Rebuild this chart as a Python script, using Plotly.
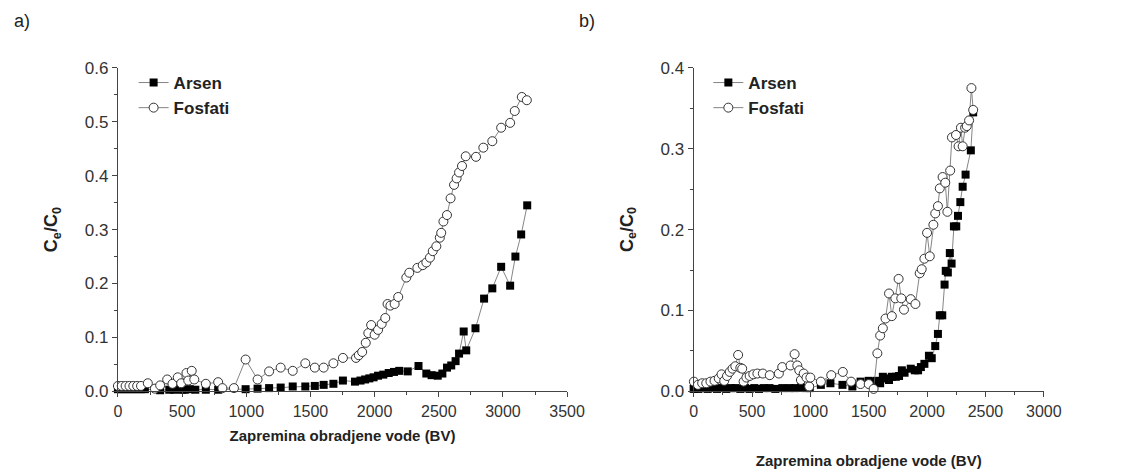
import plotly.graph_objects as go

# panel a) data
a_arsen_x = [0, 30, 60, 90, 120, 150, 180, 210, 329, 400, 438, 460, 500, 521, 560, 603, 685, 781,
             995, 1088, 1178, 1268, 1362, 1460, 1534, 1603, 1679, 1753, 1847, 1890, 1926, 1959, 1992,
             2027, 2068, 2110, 2151, 2192, 2258, 2342, 2403, 2444, 2492, 2528, 2564, 2597, 2631,
             2658, 2694, 2714, 2786, 2853, 2917, 2986, 3056, 3097, 3142, 3189]
a_arsen_y = [0.004, 0.004, 0.004, 0.004, 0.004, 0.004, 0.004, 0.004, 0.002, 0.003, 0.003, 0.004,
             0.003, 0.003, 0.004, 0.003, 0.003, 0.003, 0.004, 0.005, 0.006, 0.007, 0.009, 0.009,
             0.010, 0.012, 0.014, 0.020, 0.018, 0.020, 0.022, 0.024, 0.026, 0.029, 0.031, 0.034,
             0.036, 0.038, 0.037, 0.047, 0.033, 0.030, 0.029, 0.033, 0.044, 0.048, 0.056, 0.070,
             0.111, 0.076, 0.117, 0.172, 0.191, 0.231, 0.196, 0.250, 0.291, 0.345]

a_fosf_x = [0, 30, 60, 90, 120, 150, 180, 233, 288, 329, 384, 425, 466, 493, 534, 548, 575, 595,
            685, 781, 814, 904, 995, 1088, 1178, 1268, 1362, 1460, 1534, 1603, 1679, 1753, 1855,
            1877, 1903, 1931, 1951, 1973, 2000, 2027, 2055, 2083, 2101, 2123, 2156, 2184, 2247,
            2270, 2333, 2375, 2403, 2431, 2453, 2481, 2508, 2519, 2536, 2564, 2592, 2619, 2639,
            2658, 2681, 2710, 2790, 2847, 2917, 2986, 3056, 3092, 3147, 3186]
a_fosf_y = [0.010, 0.010, 0.010, 0.010, 0.010, 0.010, 0.010, 0.015, 0.005, 0.011, 0.022, 0.014,
            0.026, 0.015, 0.034, 0.020, 0.038, 0.022, 0.014, 0.017, 0.006, 0.006, 0.059, 0.022,
            0.037, 0.044, 0.038, 0.052, 0.044, 0.044, 0.052, 0.062, 0.062, 0.067, 0.073, 0.090,
            0.108, 0.123, 0.105, 0.114, 0.125, 0.136, 0.162, 0.159, 0.162, 0.175, 0.211, 0.220,
            0.229, 0.234, 0.239, 0.248, 0.260, 0.269, 0.285, 0.294, 0.315, 0.327, 0.358, 0.383,
            0.395, 0.406, 0.418, 0.436, 0.435, 0.452, 0.464, 0.489, 0.498, 0.520, 0.546, 0.540]

# panel b) data
b_arsen_x = [0, 40, 80, 120, 160, 200, 240, 280, 320, 360, 400, 440, 480, 520, 560, 600, 650,
             700, 760, 820, 870, 920, 960, 995, 1090, 1172, 1275, 1360, 1430, 1500, 1535, 1570,
             1598, 1621, 1651, 1674, 1698, 1733, 1760, 1784, 1807, 1860, 1895, 1923, 1947, 1977,
             2016, 2040, 2070, 2093, 2109, 2130, 2150, 2160, 2178, 2195, 2210, 2230, 2250, 2265,
             2285, 2305, 2330, 2375, 2395]
b_arsen_y = [0.003, 0.003, 0.004, 0.003, 0.004, 0.003, 0.004, 0.003, 0.004, 0.004, 0.003, 0.004,
             0.003, 0.004, 0.003, 0.004, 0.004, 0.003, 0.004, 0.004, 0.004, 0.005, 0.004, 0.004,
             0.008, 0.010, 0.008, 0.006, 0.012, 0.013, 0.012, 0.013, 0.010, 0.018, 0.016, 0.014,
             0.018, 0.018, 0.019, 0.026, 0.023, 0.028, 0.026, 0.026, 0.030, 0.034, 0.044, 0.041,
             0.056, 0.071, 0.094, 0.094, 0.132, 0.149, 0.147, 0.171, 0.158, 0.204, 0.204, 0.217,
             0.234, 0.253, 0.268, 0.298, 0.345]

b_fosf_x = [2, 37, 73, 108, 144, 179, 215, 239, 262, 286, 309, 333, 357, 381, 400, 416, 428, 452,
            480, 511, 546, 593, 652, 730, 759, 830, 865, 888, 905, 919, 943, 967, 990, 1000, 1090,
            1179, 1278, 1349, 1430, 1500, 1542, 1574, 1598, 1621, 1644, 1674, 1698, 1728, 1756,
            1779, 1802, 1860, 1900, 1937, 1954, 1977, 2000, 2023, 2054, 2070, 2093, 2109, 2133,
            2156, 2174, 2198, 2213, 2248, 2270, 2290, 2305, 2326, 2340, 2360, 2380, 2395]
b_fosf_y = [0.012, 0.008, 0.010, 0.010, 0.012, 0.013, 0.016, 0.021, 0.013, 0.019, 0.024, 0.028,
            0.031, 0.045, 0.029, 0.028, 0.012, 0.017, 0.019, 0.021, 0.022, 0.022, 0.020, 0.022,
            0.030, 0.032, 0.046, 0.032, 0.026, 0.014, 0.022, 0.017, 0.006, 0.017, 0.012, 0.020,
            0.024, 0.012, 0.009, 0.009, 0.003, 0.047, 0.069, 0.078, 0.090, 0.121, 0.093, 0.115,
            0.139, 0.115, 0.101, 0.114, 0.108, 0.146, 0.151, 0.164, 0.196, 0.167, 0.206, 0.220,
            0.229, 0.251, 0.265, 0.258, 0.222, 0.273, 0.314, 0.317, 0.303, 0.326, 0.303, 0.326,
            0.328, 0.335, 0.375, 0.348]

FONT = "Liberation Sans, Arial, sans-serif"
LINE = "#666666"
W, H = 1145, 473

sq = dict(symbol="square", size=8, color="black", line=dict(width=0))
circ = dict(symbol="circle", size=9, color="white", line=dict(color="#333333", width=1))

fig = go.Figure()
fig.add_trace(go.Scatter(x=a_arsen_x, y=a_arsen_y, name="<b>Arsen</b>", mode="lines+markers",
                         marker=sq, line=dict(color=LINE, width=0.8), cliponaxis=False,
                         xaxis="x", yaxis="y", legend="legend"))
fig.add_trace(go.Scatter(x=a_fosf_x, y=a_fosf_y, name="<b>Fosfati</b>", mode="lines+markers",
                         marker=circ, line=dict(color=LINE, width=0.8), cliponaxis=False,
                         xaxis="x", yaxis="y", legend="legend"))
fig.add_trace(go.Scatter(x=b_arsen_x, y=b_arsen_y, name="<b>Arsen</b>", mode="lines+markers",
                         marker=sq, line=dict(color=LINE, width=0.8), cliponaxis=False,
                         xaxis="x2", yaxis="y2", legend="legend2"))
fig.add_trace(go.Scatter(x=b_fosf_x, y=b_fosf_y, name="<b>Fosfati</b>", mode="lines+markers",
                         marker=circ, line=dict(color=LINE, width=0.8), cliponaxis=False,
                         xaxis="x2", yaxis="y2", legend="legend2"))

def xax(domain, rng, standoff):
    return dict(domain=domain, range=rng, dtick=500, tick0=0, showgrid=False, zeroline=False,
                showline=True, linecolor="#444444", linewidth=1.2, ticks="outside", ticklen=5,
                tickcolor="#444444", tickfont=dict(family=FONT, size=16, color="#333333"),
                minor=dict(dtick=250, ticks="outside", ticklen=3, tickcolor="#444444"),
                title=dict(text="<b>Zapremina obradjene vode (BV)</b>", standoff=standoff,
                           font=dict(family=FONT, size=15, color="#222222")))

def yax(domain, rng, anchor):
    return dict(domain=domain, range=rng, dtick=0.1, tick0=0, tickformat=".1f", showgrid=False,
                zeroline=False, showline=True, linecolor="#444444", linewidth=1.2,
                ticks="outside", ticklen=5, tickcolor="#444444", anchor=anchor,
                tickfont=dict(family=FONT, size=17, color="#333333"),
                minor=dict(dtick=0.05, ticks="outside", ticklen=3, tickcolor="#444444"),
                title=dict(text="<b>C<sub>e</sub>/C<sub>0</sub></b>", standoff=22,
                           font=dict(family=FONT, size=18, color="#222222")))

ybot = 1 - 390 / H
ytop = 1 - 53 / H
leg = dict(font=dict(family=FONT, size=17, color="#222222"), bgcolor="rgba(0,0,0,0)",
           yanchor="top", xanchor="left", itemwidth=30, tracegroupgap=0)

fig.update_layout(
    width=W, height=H, margin=dict(l=0, r=0, t=0, b=0),
    paper_bgcolor="white", plot_bgcolor="white",
    xaxis=dict(xax([108 / W, 566 / W], [0, 3500], 11), anchor="y"),
    yaxis=yax([ybot, ytop], [0, 0.6], "x"),
    xaxis2=dict(xax([695 / W, 1052 / W], [0, 3000], 36), anchor="y2"),
    yaxis2=yax([ybot, ytop], [0, 0.4], "x2"),
    legend=dict(leg, x=124 / W, y=1 - 50 / H),
    legend2=dict(leg, x=710 / W, y=1 - 50 / H),
    annotations=[
        dict(text="a)", x=0, y=1 + 8 / H, xref="paper", yref="paper",
             xanchor="left", yanchor="top", showarrow=False,
             font=dict(family=FONT, size=18, color="#222222")),
        dict(text="b)", x=576 / W, y=1 + 8 / H, xref="paper", yref="paper",
             xanchor="left", yanchor="top", showarrow=False,
             font=dict(family=FONT, size=18, color="#222222")),
    ],
)

fig.write_html("out.html")
